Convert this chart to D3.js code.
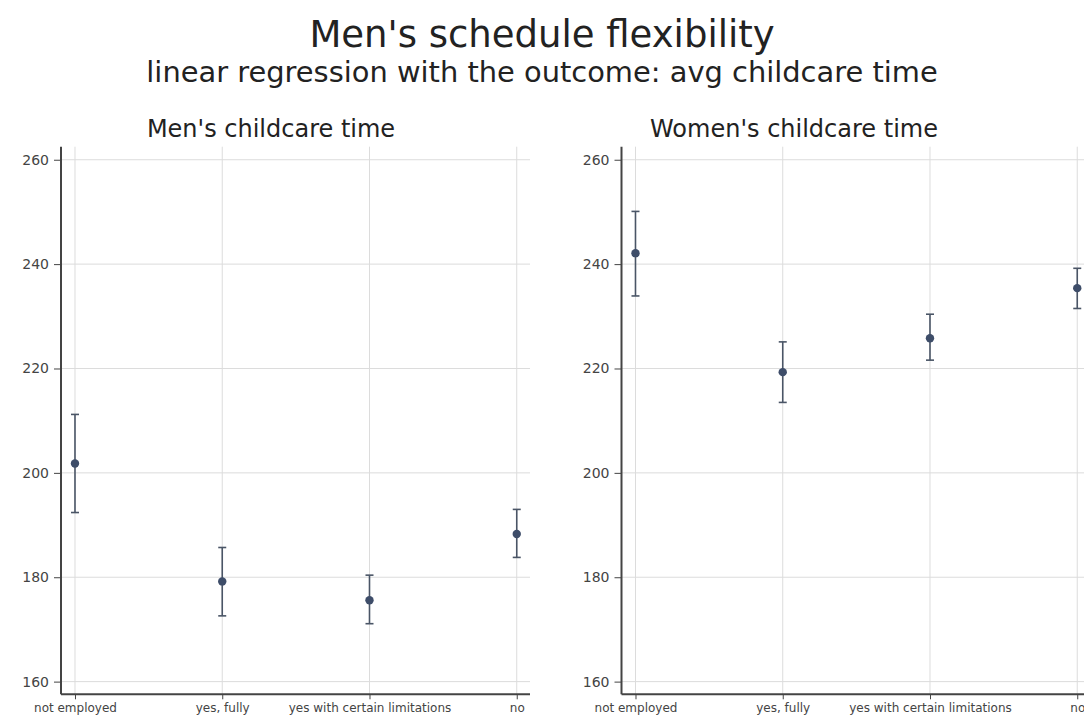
<!DOCTYPE html>
<html>
<head>
  <style>
    html, body { margin: 0; padding: 0; background: #fff; }
    svg { display: block; font-family: "DejaVu Sans", sans-serif; }
    .grid line { stroke: #dcdcdc; stroke-width: 1; }
    .axis path, .axis line { stroke: #444; }
    .axis text { fill: #444; font-family: "DejaVu Sans", sans-serif; }
  </style>
</head>
<body>
  <svg id="chart" width="1084" height="720"></svg>

  <script src="https://d3js.org/d3.v7.min.js"></script>
  <script>
    // data
    const categories = ["not employed", "yes, fully", "yes with certain limitations", "no"];
    const yTicks = [160, 180, 200, 220, 240, 260];

    const menMean = [201.8, 179.2, 175.6, 188.3];
    const menLow  = [192.4, 172.6, 171.1, 183.8];
    const menHigh = [211.2, 185.7, 180.4, 193.0];

    const womenMean = [242.1, 219.3, 225.8, 235.4];
    const womenLow  = [233.9, 213.5, 221.6, 231.5];
    const womenHigh = [250.1, 225.1, 230.4, 239.2];

    const svg = d3.select("#chart");
    const W = 1084;

    // titles
    svg.append("text")
       .attr("x", W / 2).attr("y", 47)
       .attr("text-anchor", "middle")
       .style("font-size", "37px").style("fill", "#222")
       .text("Men's schedule flexibility");

    svg.append("text")
       .attr("x", W / 2).attr("y", 82)
       .attr("text-anchor", "middle")
       .style("font-size", "28.9px").style("fill", "#222")
       .text("linear regression with the outcome: avg childcare time");

    const yTop = 146.7, yBottom = 694.3;
    const y = d3.scaleLinear().domain([157.57, 262.5]).range([yBottom, yTop]);

    const panels = [
      { title: "Men's childcare time", titleX: 271, x0: 61, x1: 530,
        mean: menMean, low: menLow, high: menHigh },
      { title: "Women's childcare time", titleX: 794, x0: 621.5, x1: 1090.5,
        mean: womenMean, low: womenLow, high: womenHigh }
    ];

    panels.forEach(p => {
      const x = d3.scaleLinear().domain([-0.095, 3.09]).range([p.x0, p.x1]);
      const idx = categories.map((c, i) => i);
      const rows = idx.map(i => ({ i, mean: p.mean[i], low: p.low[i], high: p.high[i] }));

      const g = svg.append("g");

      // grid
      g.append("g").attr("class", "grid")
        .selectAll("line").data(yTicks).enter().append("line")
        .attr("x1", p.x0).attr("x2", p.x1)
        .attr("y1", d => y(d)).attr("y2", d => y(d));
      g.append("g").attr("class", "grid")
        .selectAll("line").data(idx).enter().append("line")
        .attr("x1", d => x(d)).attr("x2", d => x(d))
        .attr("y1", yTop).attr("y2", yBottom);

      // axes
      const yAxis = d3.axisLeft(y).tickValues(yTicks).tickSize(7).tickPadding(5);
      g.append("g").attr("class", "axis")
        .attr("transform", `translate(${p.x0},0)`)
        .call(yAxis)
        .call(a => a.select(".domain").attr("d", `M0,${yTop}V${yBottom}`).style("stroke-width", 2))
        .selectAll("text").style("font-size", "14px");

      const xAxis = d3.axisBottom(x).tickValues(idx).tickFormat(i => categories[i]).tickSize(5).tickPadding(4);
      g.append("g").attr("class", "axis")
        .attr("transform", `translate(0,${yBottom})`)
        .call(xAxis)
        .call(a => a.select(".domain").attr("d", `M${p.x0},0H${p.x1}`).style("stroke-width", 2))
        .selectAll("text").style("font-size", "12px");

      // subplot title
      svg.append("text")
         .attr("x", p.titleX).attr("y", 136.7)
         .attr("text-anchor", "middle")
         .style("font-size", "24px").style("fill", "#222")
         .text(p.title);

      // error bars
      const eb = g.append("g").attr("stroke", "#4a5566").attr("stroke-width", 1.6);
      eb.selectAll("line.bar").data(rows).enter().append("line").attr("class", "bar")
        .attr("x1", d => x(d.i)).attr("x2", d => x(d.i))
        .attr("y1", d => y(d.low)).attr("y2", d => y(d.high));
      eb.selectAll("line.capT").data(rows).enter().append("line").attr("class", "capT")
        .attr("x1", d => x(d.i) - 4).attr("x2", d => x(d.i) + 4)
        .attr("y1", d => y(d.high)).attr("y2", d => y(d.high));
      eb.selectAll("line.capB").data(rows).enter().append("line").attr("class", "capB")
        .attr("x1", d => x(d.i) - 4).attr("x2", d => x(d.i) + 4)
        .attr("y1", d => y(d.low)).attr("y2", d => y(d.low));

      // points
      g.selectAll("circle").data(rows).enter().append("circle")
        .attr("cx", d => x(d.i)).attr("cy", d => y(d.mean))
        .attr("r", 4.2)
        .attr("fill", "#3e4d69");
    });
  </script>
</body>
</html>
